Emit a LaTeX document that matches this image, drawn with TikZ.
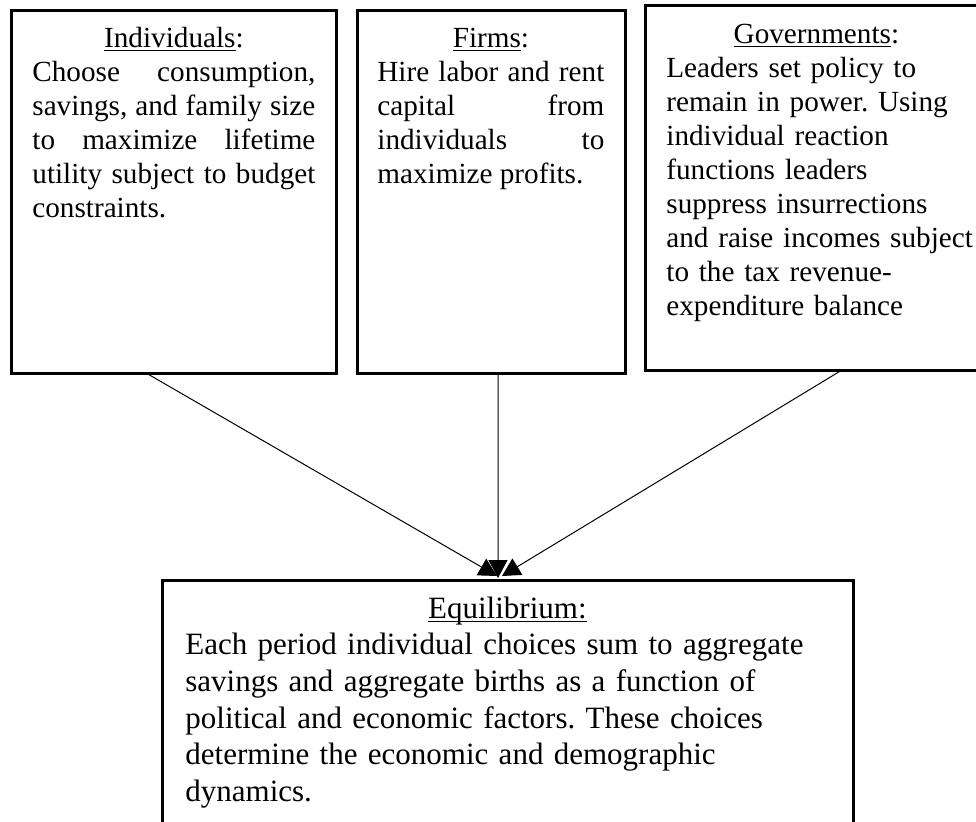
\documentclass[tikz,border=0pt]{standalone}
\usepackage{fontspec}
\setmainfont{Liberation Serif}
\usetikzlibrary{arrows.meta}
\setlength{\parindent}{0pt}
\tolerance=10000
\hbadness=10000
\hfuzz=20pt
\hyphenpenalty=10000
\exhyphenpenalty=10000
\frenchspacing
\newsavebox{\headbox}
\newcommand{\headul}[1]{\sbox{\headbox}{#1}\rlap{\rule[-2pt]{\wd\headbox}{0.6pt}}\usebox{\headbox}}
\tikzset{agentbox/.style={draw, line width=1.5pt, anchor=north west, inner sep=0pt, outer sep=0pt},
  agenttext/.style={anchor=base west, inner sep=0pt, font=\fontsize{14.6pt}{17pt}\selectfont},
  flowarrow/.style={line width=0.5pt, -{Triangle[length=9pt,width=9.5pt]}}}

\begin{document}
\begin{tikzpicture}[x=0.5pt, y=-0.5pt]
\useasboundingbox (0,0) rectangle (976,821);
\clip (0,0) rectangle (976,821);

% boxes
\node [agentbox, minimum width=162.75pt, minimum height=181.5pt] (ind) at (11,10.5) {};
\node [agentbox, minimum width=134.25pt, minimum height=181.5pt] (firm) at (357,10.5) {};
\node [agentbox, minimum width=170.5pt, minimum height=182.25pt] (gov) at (645,5.5) {};
\node [agentbox, minimum width=345.5pt, minimum height=130pt] (eqm) at (162.5,580) {};

% texts
\node [agenttext, text width=141.5pt, align=justify] (indtext) at (32,47)
  {{\centering\headul{Individuals}:\par}Choose consumption,\linebreak savings, and family size\linebreak to maximize lifetime\linebreak utility subject to budget\linebreak constraints.};
\node [agenttext, text width=113.5pt, align=justify] (firmtext) at (377,47)
  {{\centering\headul{Firms}:\par}Hire labor and rent\linebreak capital from\linebreak individuals to\linebreak maximize profits.};
\node [agenttext, text width=150pt, align=left] (govtext) at (666,43)
  {{\centering\headul{Governments}:\par}Leaders set policy to\\ remain in power. Using\\ individual reaction\\ functions leaders\\ suppress insurrections\\ \mbox{and raise incomes subject}\\ to the tax revenue-\\ expenditure balance};
\node [agenttext, text width=322pt, align=left, font=\fontsize{15.5pt}{18.35pt}\selectfont] (eqmtext) at (185,618)
  {{\centering\headul{Equilibrium:}\par}Each period individual choices sum to aggregate\\ savings and aggregate births as a function of\\ political and economic factors. These choices\\ determine the economic and demographic\\ dynamics.};

% edges
\draw [flowarrow] ([xshift=-13.4pt]ind.south) -- ([xshift=-5.5pt,yshift=2pt]eqm.north);
\draw [flowarrow] ([xshift=3.4pt]firm.south) -- ([xshift=-5pt,yshift=1pt]eqm.north);
\draw [flowarrow] ([xshift=13.25pt]gov.south) -- ([xshift=-3pt,yshift=2pt]eqm.north);
\end{tikzpicture}
\end{document}
